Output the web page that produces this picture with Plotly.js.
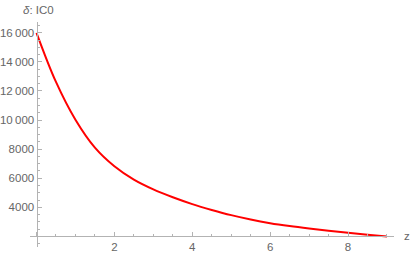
<!DOCTYPE html>
<html>
<head>
<meta charset="utf-8">
<script src="https://cdn.plot.ly/plotly-3.0.1.min.js"></script>
<style>
	html, body {margin: 0; padding: 0; background: #fff;}
	#plot {width: 411px; height: 256px;}
</style>
</head>
<body>
<div id="plot"></div>
<script>
"use strict";

// DATA
const zVals = [0, 0.5, 1, 1.5, 2, 2.5, 3, 3.5, 4, 4.5, 5, 5.5, 6, 6.5, 7, 7.5, 8, 8.5, 9];
const ic0Vals = [16000, 12620, 10020, 8100, 6820, 5900, 5230, 4690, 4220, 3820, 3460, 3160, 2910, 2710, 2540, 2390, 2250, 2120, 2000];

const xTicks = [0, 2, 4, 6, 8];
const xTickText = ["", "2", "4", "6", "8"];
const yTicks = [4000, 6000, 8000, 10000, 12000, 14000, 16000];
const yTickText = ["4000", "6000", "8000", "10\u2009000", "12\u2009000", "14\u2009000", "16\u2009000"];

// STYLE
const AXIS_COL = "#b3b3b3";
const LABEL_COL = "#666666";
const FONT = "Liberation Sans, Arial, sans-serif";

const xRange = [-0.167, 9.18];
const yRange = [1270, 16743];
const yCross = 2006; // where the horizontal axis sits

function frac(v, r){
	return (v - r[0]) / (r[1] - r[0]);
}

const trace = {
	x: zVals,
	y: ic0Vals,
	type: 'scatter',
	mode: 'lines',
	line: {color: '#ff0000', width: 2, shape: 'spline', smoothing: 1},
	hoverinfo: 'skip'
};

const layout = {
	width: 411,
	height: 256,
	margin: {l: 30, r: 17, t: 22, b: 9},
	paper_bgcolor: '#ffffff',
	plot_bgcolor: '#ffffff',
	showlegend: false,
	font: {family: FONT, size: 11.5, color: LABEL_COL},
	xaxis: {
		range: xRange,
		anchor: 'free',
		position: frac(yCross, yRange),
		showgrid: false,
		zeroline: false,
		showline: true,
		linecolor: AXIS_COL,
		linewidth: 1,
		tickmode: 'array',
		tickvals: xTicks,
		ticktext: xTickText,
		ticks: 'inside',
		ticklen: 4,
		tickcolor: AXIS_COL,
		tickfont: {family: FONT, size: 11.5, color: LABEL_COL},
		minor: {dtick: 0.5, ticks: 'inside', ticklen: 2.5, tickcolor: AXIS_COL},
		automargin: false
	},
	yaxis: {
		range: yRange,
		anchor: 'free',
		position: frac(0, xRange),
		showgrid: false,
		zeroline: false,
		showline: true,
		linecolor: AXIS_COL,
		linewidth: 1,
		tickmode: 'array',
		tickvals: yTicks,
		ticktext: yTickText,
		ticks: 'inside',
		ticklen: 4,
		tickcolor: AXIS_COL,
		tickfont: {family: FONT, size: 11.5, color: LABEL_COL},
		minor: {dtick: 500, ticks: 'inside', ticklen: 2.5, tickcolor: AXIS_COL},
		automargin: false
	},
	annotations: [
		{
			text: "<i>\u03b4</i>: IC0",
			xref: 'paper', yref: 'paper',
			x: -0.025, y: 1.0,
			xanchor: 'left', yanchor: 'bottom',
			yshift: 4,
			showarrow: false,
			font: {family: FONT, size: 11.5, color: LABEL_COL}
		},
		{
			text: "z",
			xref: 'paper', yref: 'y',
			x: 1.0, y: yCross,
			xanchor: 'left', yanchor: 'middle',
			xshift: 8,
			showarrow: false,
			font: {family: FONT, size: 11.5, color: LABEL_COL}
		}
	]
};

Plotly.newPlot('plot', [trace], layout, {staticPlot: true, displayModeBar: false});
</script>
</body>
</html>
